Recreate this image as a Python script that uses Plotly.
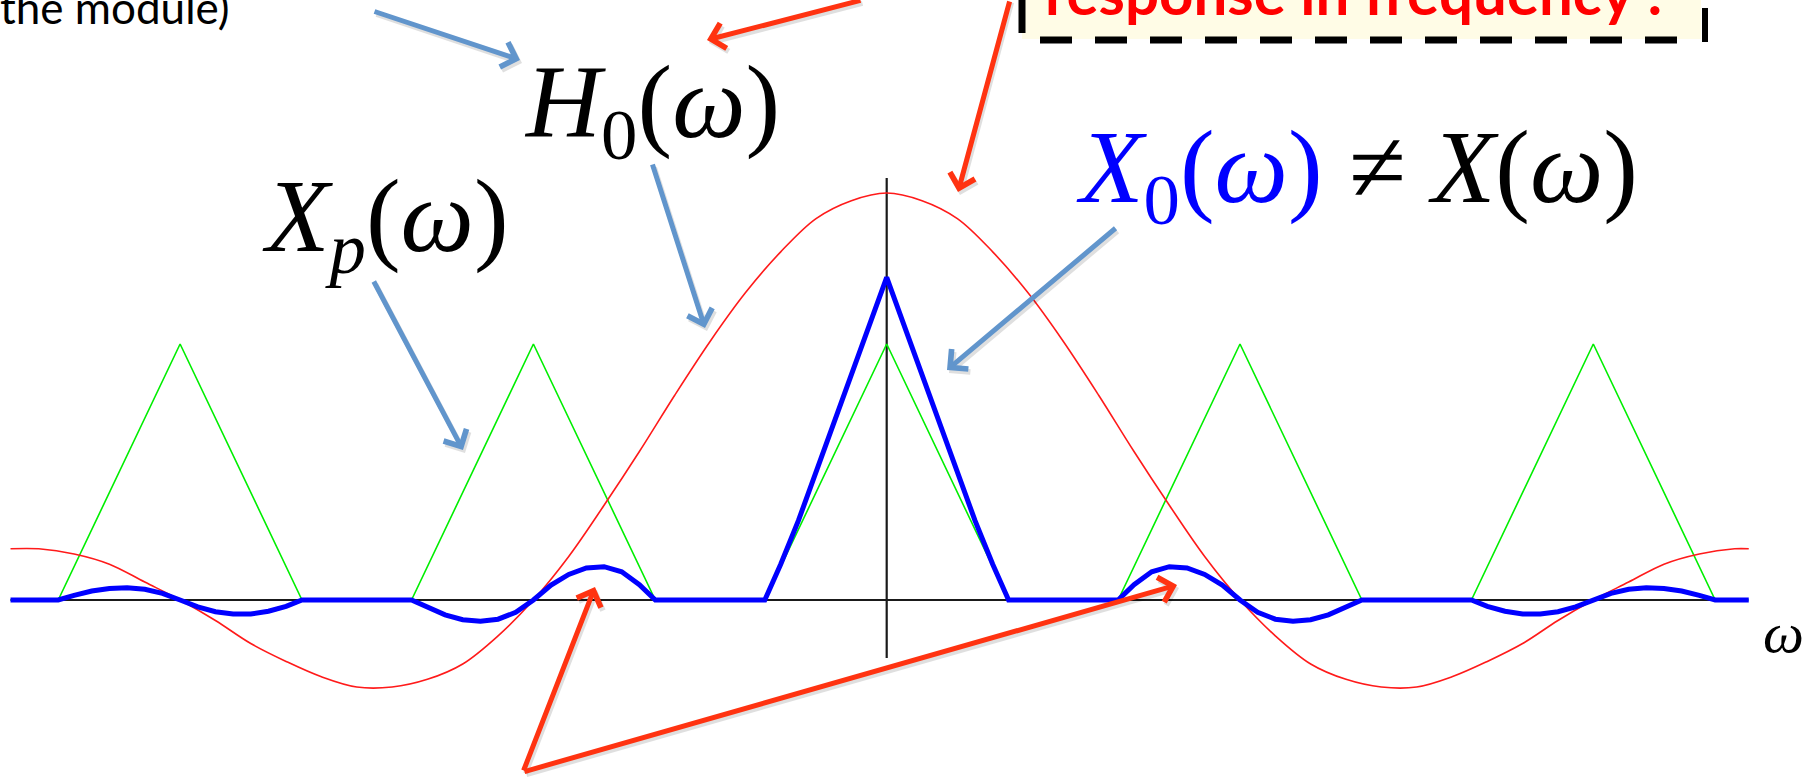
import plotly.graph_objects as go

W, H = 1809, 778

# Pixel placement of the frequency plane: origin and size of one unit
ORIGIN_PX = (886.7, 600.0)
UNIT_X_PX = 353.3   # one sampling frequency ws
UNIT_Y_PX = 256.0   # peak of one spectral replica

# ---------------------------------------------------------------- data
# Frequency is expressed in multiples of the sampling frequency ws.
omega_min, omega_max = -2.48, 2.44

# |H0(w)| of the zero-order hold, drawn with its sign (red)
h0_omega = [-2.48, -2.4, -2.3, -2.2, -2.1, -2.0, -1.9, -1.8, -1.7, -1.6,
            -1.5, -1.4, -1.3, -1.2, -1.1, -1.0, -0.9, -0.8, -0.7, -0.6,
            -0.5, -0.4, -0.3, -0.2, -0.1, 0.0, 0.1, 0.2, 0.3, 0.4,
            0.5, 0.6, 0.7, 0.8, 0.9, 1.0, 1.1, 1.2, 1.3, 1.4,
            1.5, 1.6, 1.7, 1.8, 1.9, 2.0, 2.1, 2.2, 2.3, 2.4, 2.44]
h0_value = [0.20, 0.20, 0.18, 0.14, 0.07, 0.00, -0.08, -0.17, -0.24, -0.30,
            -0.34, -0.34, -0.31, -0.25, -0.14, 0.00, 0.17, 0.37, 0.58, 0.80,
            1.01, 1.20, 1.36, 1.49, 1.56, 1.59, 1.56, 1.49, 1.36, 1.20,
            1.01, 0.80, 0.58, 0.37, 0.17, 0.00, -0.14, -0.25, -0.31, -0.34,
            -0.34, -0.30, -0.24, -0.17, -0.08, 0.00, 0.07, 0.14, 0.18, 0.20, 0.20]

# Xp(w): periodic replicas of the triangular spectrum (green)
xp_omega = [-2.48, -2.345, -2.0, -1.655, -1.345, -1.0, -0.655, -0.345, 0.0,
            0.345, 0.655, 1.0, 1.345, 1.655, 2.0, 2.345, 2.44]
xp_value = [0, 0, 1, 0, 0, 1, 0, 0, 1, 0, 0, 1, 0, 0, 1, 0, 0]

# X0(w) = Xp(w) H0(w) (blue), read around each replica centre
replica_centres = [-2, -1, 0, 1, 2]
replica_offsets = [-0.345, -0.30, -0.25, -0.20, -0.15, -0.10, -0.05, 0.0,
                   0.05, 0.10, 0.15, 0.20, 0.25, 0.30, 0.345]
x0_rep_m2 = [0, 0.018, 0.035, 0.045, 0.048, 0.042, 0.026, 0,
             -0.027, -0.046, -0.055, -0.055, -0.044, -0.025, 0]
x0_rep_m1 = [0, -0.030, -0.058, -0.077, -0.083, -0.075, -0.048, 0,
             0.058, 0.100, 0.125, 0.130, 0.110, 0.060, 0]
x0_rep_0 = [0, 0.14, 0.31, 0.50, 0.69, 0.88, 1.07, 1.26,
            1.07, 0.88, 0.69, 0.50, 0.31, 0.14, 0]
x0_rep_p1 = [0, 0.060, 0.110, 0.130, 0.125, 0.100, 0.058, 0,
             -0.048, -0.075, -0.083, -0.077, -0.058, -0.030, 0]
x0_rep_p2 = [0, -0.025, -0.044, -0.055, -0.055, -0.046, -0.027, 0,
             0.026, 0.042, 0.048, 0.045, 0.035, 0.018, 0]

# extent of the drawn coordinate axes
axis_omega_span = (-2.48, 2.435)
axis_value_span = (-0.227, 1.648)

# ------------------------------------------------------- build X0 curve
x0_omega = [omega_min]
x0_value = [0.0]
for centre, values in zip(replica_centres,
                          [x0_rep_m2, x0_rep_m1, x0_rep_0, x0_rep_p1, x0_rep_p2]):
    x0_omega += [centre + d for d in replica_offsets]
    x0_value += values
x0_omega.append(omega_max)
x0_value.append(0.0)

fig = go.Figure()
fig.add_trace(go.Scatter(x=xp_omega, y=xp_value, mode="lines",
                         line=dict(color="#00ee00", width=1.6), hoverinfo="skip"))
fig.add_trace(go.Scatter(x=h0_omega, y=h0_value, mode="lines",
                         line=dict(color="#ff1a1a", width=1.6, shape="spline"),
                         hoverinfo="skip"))
fig.add_trace(go.Scatter(x=x0_omega, y=x0_value, mode="lines",
                         line=dict(color="#0000ff", width=5), hoverinfo="skip"))

x_range = [-ORIGIN_PX[0] / UNIT_X_PX, (W - ORIGIN_PX[0]) / UNIT_X_PX]
y_range = [-(H - ORIGIN_PX[1]) / UNIT_Y_PX, ORIGIN_PX[1] / UNIT_Y_PX]


def px(x):
    return x / W


def py(y):
    return 1 - y / H


shapes = [
    # coordinate axes
    dict(type="line", xref="x", yref="y", x0=axis_omega_span[0], x1=axis_omega_span[1],
         y0=0, y1=0, line=dict(color="#1a1a1a", width=2.2), layer="below"),
    dict(type="line", xref="x", yref="y", x0=0, x1=0,
         y0=axis_value_span[0], y1=axis_value_span[1],
         line=dict(color="#1a1a1a", width=2.2), layer="below"),
    # call-out box at the top right
    dict(type="rect", xref="paper", yref="paper", x0=px(1022), x1=px(1701),
         y0=py(39), y1=py(-40), fillcolor="#fffce6", line=dict(width=0), layer="below"),
    dict(type="line", xref="paper", yref="paper", x0=px(1022), x1=px(1022),
         y0=py(-5), y1=py(33), line=dict(color="black", width=7)),
    dict(type="line", xref="paper", yref="paper", x0=px(1040), x1=px(1682),
         y0=py(40), y1=py(40), line=dict(color="black", width=7, dash="32px,23px")),
    dict(type="line", xref="paper", yref="paper", x0=px(1705), x1=px(1705),
         y0=py(8), y1=py(42), line=dict(color="black", width=6)),
]

BLUE_ARROW = "#6195cc"
RED_ARROW = "#ff3311"
MATH_FONT = "Liberation Serif"
NOTE_FONT = "Lato"


def arrow(tail, head, color):
    (tx, ty), (hx, hy) = tail, head
    out = []
    # soft drop shadow under every arrow
    out.append(dict(x=px(hx + 2), y=py(hy + 3), xref="paper", yref="paper",
                    ax=tx - hx, ay=ty - hy, axref="pixel", ayref="pixel",
                    text="", showarrow=True, arrowhead=4, arrowsize=1,
                    arrowwidth=5, arrowcolor="rgba(0,0,0,0.12)",
                    standoff=0, startstandoff=0))
    out.append(dict(x=px(hx), y=py(hy), xref="paper", yref="paper",
                    ax=tx - hx, ay=ty - hy, axref="pixel", ayref="pixel",
                    text="", showarrow=True, arrowhead=4, arrowsize=1,
                    arrowwidth=5, arrowcolor=color,
                    standoff=0, startstandoff=0))
    return out


def label(text, x, y, size, family, color="black",
          xanchor="left", yanchor="middle"):
    return dict(x=px(x), y=py(y), xref="paper", yref="paper", text=text,
                showarrow=False, xanchor=xanchor, yanchor=yanchor,
                font=dict(family=family, size=size, color=color))


annotations = [
    label("<i>H</i><sub>0</sub>(<i>ω</i>)", 522, 110, 104, MATH_FONT),
    label("<i>X</i><sub><i>p</i></sub>(<i>ω</i>)", 260, 224, 104, MATH_FONT),
    label("<span style='color:#0000ff'><i>X</i><sub>0</sub>(<i>ω</i>)</span>"
          " ≠ <i>X</i>(<i>ω</i>)", 1074, 174, 104, MATH_FONT),
    label("<i>ω</i>", 1806, 632, 58, MATH_FONT, xanchor="right"),
    label("the module)", -2, 7, 44, NOTE_FONT),
    label("<b>response in frequency !</b>", 1043, -8, 60, NOTE_FONT,
          color="#ff0000"),
]
annotations += arrow((373, 11), (520, 60), BLUE_ARROW)
annotations += arrow((862, 0), (707, 40), RED_ARROW)
annotations += arrow((1010, -2), (958, 192), RED_ARROW)
annotations += arrow((652, 163), (705, 328), BLUE_ARROW)
annotations += arrow((373, 280), (463, 450), BLUE_ARROW)
annotations += arrow((1117, 227), (947, 370), BLUE_ARROW)
annotations += arrow((523, 772), (595, 587), RED_ARROW)
annotations += arrow((523, 772), (1177, 585), RED_ARROW)

fig.update_layout(
    width=W, height=H,
    margin=dict(l=0, r=0, t=0, b=0, pad=0),
    paper_bgcolor="white", plot_bgcolor="white",
    font=dict(family=MATH_FONT),
    showlegend=False,
    xaxis=dict(range=x_range, visible=False, fixedrange=True),
    yaxis=dict(range=y_range, visible=False, fixedrange=True),
    shapes=shapes,
    annotations=annotations,
)

fig.write_html("out.html")
